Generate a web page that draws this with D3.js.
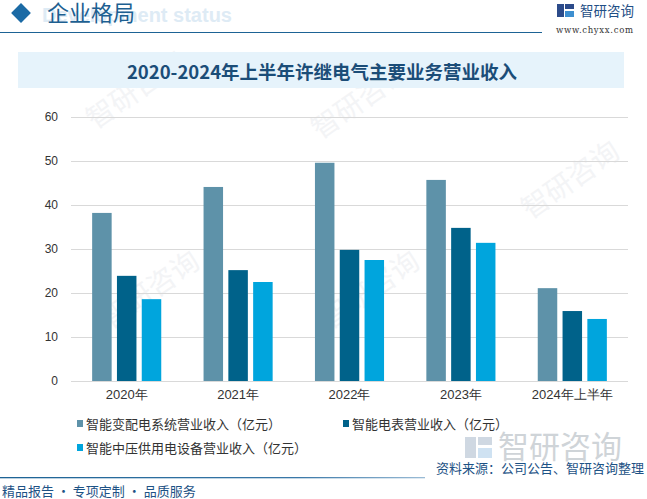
<!DOCTYPE html>
<html><head><meta charset="utf-8">
<script src="https://cdn.jsdelivr.net/npm/d3@7"></script>
<style>body{margin:0;background:#fff;}svg{display:block;font-family:"Noto Sans CJK SC","Noto Sans",sans-serif;}</style>
</head><body>
<script>
const categories = ["2020年","2021年","2022年","2023年","2024年上半年"];
const seriesNames = ["智能变配电系统营业收入（亿元）","智能电表营业收入（亿元）","智能中压供用电设备营业收入（亿元）"];
const s1 = [38.2, 44.1, 49.6, 45.7, 21.1];
const s2 = [23.9, 25.2, 29.8, 34.8, 15.9];
const s3 = [18.6, 22.5, 27.5, 31.4, 14.1];
const yTicks = [0,10,20,30,40,50,60];
const colors = ["#5e92a9","#00628a","#00a5dd"];
const title = "2020-2024年上半年许继电气主要业务营业收入";

const W=647,H=499;
const svg=d3.select("body").append("svg").attr("width",W).attr("height",H);

// watermarks (faint)
const wm=svg.append("g");
[[95,130],[320,140],[110,330],[330,330],[530,220]].forEach(([x,y])=>{
  const g=wm.append("g").attr("transform",`translate(${x},${y}) rotate(-35)`);
  g.append("text").attr("font-size",28).attr("fill","#f3f4f6").text("智研咨询");
});

// header
svg.append("rect").attr("x",14).attr("y",6).attr("width",14).attr("height",14).attr("fill","#1b6aa5").attr("transform","rotate(45,21,13)");
svg.append("text").attr("x",232).attr("y",22).attr("text-anchor","end").attr("font-size",20).attr("font-weight","bold").attr("fill","#deebf5").attr("font-family","Liberation Sans, Arial").text("Development status");
svg.append("text").attr("x",47).attr("y",21).attr("font-size",22).attr("fill","#1d5f91").text("企业格局");
svg.append("line").attr("x1",0).attr("x2",542).attr("y1",32.5).attr("y2",32.5).attr("stroke","#1d6395").attr("stroke-width",1.2);
// logo
const lg=svg.append("g");
lg.append("rect").attr("x",557).attr("y",4).attr("width",7).attr("height",13).attr("fill","#2c4b8a");
lg.append("rect").attr("x",565).attr("y",4).attr("width",9).attr("height",5).attr("fill","#2c4b8a");
lg.append("rect").attr("x",565).attr("y",11).attr("width",9).attr("height",6).attr("fill","#3d8fd0");
lg.append("text").attr("x",580).attr("y",16).attr("font-size",13.5).attr("fill","#1f4f86").text("智研咨询");
lg.append("text").attr("x",556).attr("y",33).attr("font-size",8.5).attr("fill","#333").attr("font-family","DejaVu Serif").attr("textLength",77).text("www.chyxx.com");

// title band
svg.append("rect").attr("x",18).attr("y",52).attr("width",606).attr("height",36).attr("fill","#e6f3fb");
svg.append("text").attr("x",322).attr("y",79).attr("text-anchor","middle").attr("font-size",18.5).attr("font-weight","bold").attr("fill","#1b4d78").attr("font-family","Noto Sans CJK SC").text(title);

// plot
const x0=d3.scaleBand().domain(categories).range([71,628]);
const y=d3.scaleLinear().domain([0,60]).range([381,117]);
const bw=19.5, gap=5.3;
const grid=svg.append("g");
yTicks.forEach(t=>{
  grid.append("line").attr("x1",71).attr("x2",628).attr("y1",Math.round(y(t))+0.5).attr("y2",Math.round(y(t))+0.5).attr("stroke","#d9d9d9").attr("stroke-width",1);
});
const yAxis=svg.append("g").attr("transform","translate(58,0)").call(d3.axisLeft(y).tickValues(yTicks).tickSize(0).tickPadding(0));
yAxis.select(".domain").remove();
yAxis.selectAll("text").attr("font-size",12).attr("fill","#333").attr("font-family","Liberation Sans, Arial");

const seriesData=[s1,s2,s3];
seriesData.forEach((vals,si)=>{
  svg.append("g").selectAll("rect").data(vals).enter().append("rect")
    .attr("x",(d,i)=>x0(categories[i])+x0.bandwidth()/2-(1.5*bw+gap)+si*(bw+gap))
    .attr("width",bw)
    .attr("y",d=>y(d)).attr("height",d=>y(0)-y(d))
    .attr("fill",colors[si]);
});
const xAxis=svg.append("g").attr("transform","translate(0,381)").call(d3.axisBottom(x0).tickSize(0).tickPadding(9));
xAxis.select(".domain").remove();
xAxis.selectAll("text").attr("font-size",13).attr("fill","#333");

// legend
const legPos=[[77,424],[343,424],[77,448]];
seriesNames.forEach((n,i)=>{
  const [lx,ly]=legPos[i];
  svg.append("rect").attr("x",lx).attr("y",ly-4).attr("width",6).attr("height",7).attr("fill",colors[i]);
  svg.append("text").attr("x",lx+9).attr("y",ly+5).attr("font-size",13).attr("fill","#333").text(n);
});

// bottom watermark logo
const bl=svg.append("g").attr("opacity",0.4);
bl.append("rect").attr("x",465).attr("y",437).attr("width",11).attr("height",21).attr("fill","#8aa0b8");
bl.append("rect").attr("x",478).attr("y",437).attr("width",14).attr("height",8).attr("fill","#8aa0b8");
bl.append("rect").attr("x",478).attr("y",448).attr("width",14).attr("height",10).attr("fill","#8ab8e0");
bl.append("text").attr("x",498).attr("y",458).attr("font-size",31).attr("fill","#8a95a0").text("智研咨询");

// footer
const grad=svg.append("defs").append("linearGradient").attr("id","fl");
grad.append("stop").attr("offset","0").attr("stop-color","#1d6395");
grad.append("stop").attr("offset","0.7").attr("stop-color","#3a78a8");
grad.append("stop").attr("offset","1").attr("stop-color","#9bbcd6");
svg.append("rect").attr("x",0).attr("y",477).attr("width",425).attr("height",1.3).attr("fill","url(#fl)");
svg.append("text").attr("x",644).attr("y",473).attr("text-anchor","end").attr("font-size",13).attr("fill","#1d5285").text("资料来源：公司公告、智研咨询整理");
svg.append("text").attr("x",2).attr("y",496).attr("font-size",13).attr("fill","#1d5285").text("精品报告 · 专项定制 · 品质服务");
</script>
</body></html>
